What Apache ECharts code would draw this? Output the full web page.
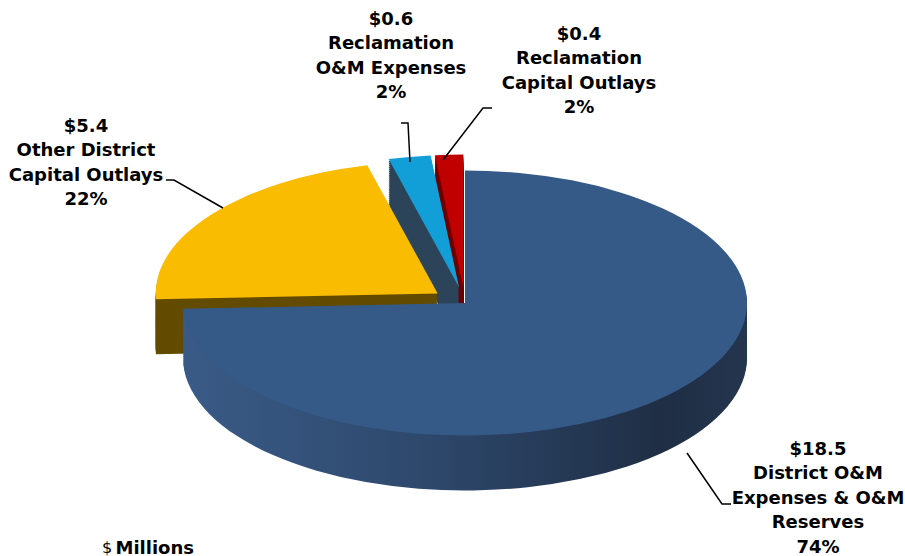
<!DOCTYPE html>
<html>
<head>
<meta charset="utf-8">
<script src="https://cdn.jsdelivr.net/npm/echarts@6/dist/echarts.min.js"></script>
<style>
html,body{margin:0;padding:0;background:#fff;overflow:hidden;}
#pie{position:absolute;left:0;top:0;width:905px;transform-origin:0 0;}
#lab{position:absolute;left:0;top:0;width:905px;height:556px;pointer-events:none;}
</style>
</head>
<body>
<div id="pie"></div>
<div id="lab"></div>
<script>
// ---- data ----
const categories = ['District O&M Expenses & O&M Reserves', 'Other District Capital Outlays', 'Reclamation O&M Expenses', 'Reclamation Capital Outlays'];
const labelLines = [['District O&M', 'Expenses & O&M', 'Reserves'], ['Other District', 'Capital Outlays'], ['Reclamation', 'O&M Expenses'], ['Reclamation', 'Capital Outlays']];
const values = [18.5, 5.4, 0.6, 0.4];
const exploded = [false, true, true, true];
const unitLabel = 'Millions';

// ---- layout / style ----
const K = 0.47;             // vertical squash for the tilted pie
const CX = 465, CY_VIS = 303, R = 282, DEPTH_VIS = 55, LAYERS = 28;
const pieDiv = document.getElementById('pie');
pieDiv.style.height = Math.round(556 / K) + 'px';
pieDiv.style.transform = 'scaleY(' + K + ')';

const faceColors = ['#355a88', '#f9bc00', '#129ed6', '#c00000'];
const sideColors = [
  new echarts.graphic.LinearGradient(0, 0, 1, 0, [
    {offset: 0, color: '#3a5b87'}, {offset: 0.45, color: '#2d476a'}, {offset: 0.85, color: '#1f2e44'}, {offset: 1, color: '#24354e'}
  ]),
  '#634b00', '#2c4459', '#6e0000'
];

function layer(cyVis, colors) {
  return {
    type: 'pie', silent: true, animation: false,
    center: [CX, cyVis / K], radius: R,
    startAngle: 90, clockwise: true,
    selectedMode: 'multiple', selectedOffset: 34,
    label: {show: false}, labelLine: {show: false},
    emphasis: {disabled: true},
    itemStyle: {borderWidth: 0},
    data: values.map((v, i) => ({value: v, name: categories[i], selected: exploded[i], itemStyle: {color: colors[i]}}))
  };
}
const series = [];
for (let i = LAYERS; i >= 1; i--) series.push(layer(CY_VIS + DEPTH_VIS * i / LAYERS, sideColors));
series.push(layer(CY_VIS, faceColors));

const pieChart = echarts.init(pieDiv, null, {renderer: 'svg'});
pieChart.setOption({animation: false, series: series});

// ---- labels ----
const total = values.reduce((a, b) => a + b, 0);
const labelText = values.map((v, i) => ['$' + v.toFixed(1)].concat(labelLines[i], [Math.round(v / total * 100) + '%']).join('\n'));
const labelPos = [[818, 436], [86, 113], [391, 6], [579, 21]];
const leaders = [
  [[687, 453], [722, 504], [731, 504]],
  [[223, 208], [174, 180], [166, 180]],
  [[410, 162], [408, 123], [401, 123]],
  [[443, 160], [483, 108], [492, 108]]
];
const FONT = '"DejaVu Sans", Verdana, sans-serif';
const graphics = [];
labelText.forEach((t, i) => {
  graphics.push({type: 'text', silent: true, x: labelPos[i][0], y: labelPos[i][1],
    style: {text: t, fill: '#000', fontFamily: FONT, fontWeight: 'bold', fontSize: 18, lineHeight: 24.5, align: 'center', verticalAlign: 'top'}});
  graphics.push({type: 'polyline', silent: true, shape: {points: leaders[i]}, style: {stroke: '#000', lineWidth: 1.5, fill: null}});
});
graphics.push({type: 'text', silent: true, x: 102, y: 538,
  style: {text: '{a|$} {b|' + unitLabel + '}', fill: '#000', verticalAlign: 'top',
    rich: {a: {fontFamily: FONT, fontSize: 16, fontWeight: 'normal', fill: '#000'}, b: {fontFamily: FONT, fontSize: 18, fontWeight: 'bold', fill: '#000'}}}});

const labChart = echarts.init(document.getElementById('lab'), null, {renderer: 'svg'});
labChart.setOption({animation: false, graphic: graphics});
</script>
</body>
</html>
